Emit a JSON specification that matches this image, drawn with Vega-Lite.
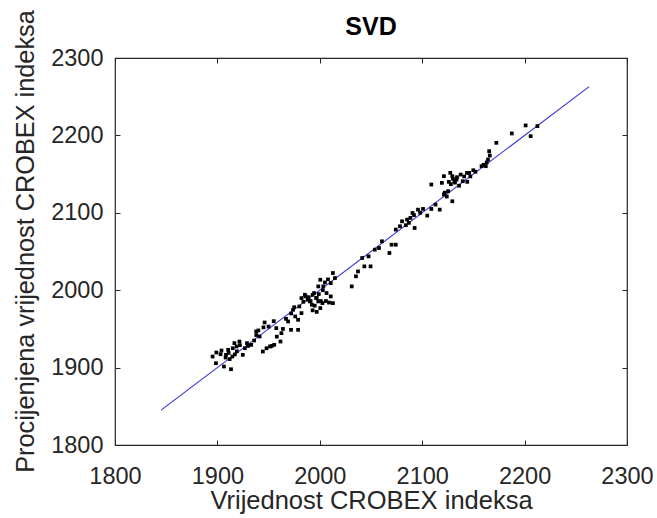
{
  "$schema": "https://vega.github.io/schema/vega-lite/v6.json",
  "autosize": "none",
  "width": 512,
  "height": 387,
  "padding": {"left": 115, "top": 58, "right": 30, "bottom": 73},
  "background": "white",
  "config": {
    "font": "Liberation Sans",
    "view": {"stroke": "#262626", "strokeWidth": 1.2},
    "axis": {"grid": false, "domain": false, "tickColor": "#262626", "tickSize": -5, "labelColor": "#262626", "titleColor": "#262626", "labelFont": "Liberation Sans", "titleFont": "Liberation Sans", "labelFontSize": 23.5, "titleFontSize": 26, "titleFontWeight": "normal", "format": "d", "labelFlush": false}
  },
  "title": {"text": "SVD", "fontSize": 25, "fontWeight": "bold", "font": "Liberation Sans", "color": "#000000", "offset": -30},
  "datasets": {
    "pts": [
      {"x":1895.3,"y":1914.3},{"x":1899.0,"y":1919.5},{"x":1898.6,"y":1905.7},{"x":1906.4,"y":1901.4},{"x":1913.3,"y":1897.9},
      {"x":1903.1,"y":1917.3},{"x":1908.4,"y":1916.5},{"x":1910.5,"y":1923.0},{"x":1914.6,"y":1914.3},{"x":1916.6,"y":1931.6},
      {"x":1918.7,"y":1927.3},{"x":1921.5,"y":1933.7},{"x":1924.8,"y":1916.5},{"x":1926.9,"y":1925.1},{"x":1928.9,"y":1931.6},
      {"x":1933.0,"y":1929.4},{"x":1935.9,"y":1935.0},{"x":1937.9,"y":1946.7},{"x":1941.2,"y":1940.2},{"x":1944.4,"y":1920.8},
      {"x":1946.1,"y":1958.3},{"x":1951.4,"y":1927.3},{"x":1955.5,"y":1929.4},{"x":1961.6,"y":1933.7},{"x":1962.5,"y":1944.5},
      {"x":1957.5,"y":1951.0},{"x":1969.0,"y":1959.6},{"x":1971.9,"y":1948.8},{"x":1973.9,"y":1974.7},{"x":1976.0,"y":1966.1},
      {"x":1978.8,"y":1961.8},{"x":1978.8,"y":1948.8},{"x":1982.1,"y":1970.4},{"x":1980.0,"y":1979.0},{"x":1982.1,"y":1989.8},
      {"x":1985.4,"y":1994.1},{"x":1988.2,"y":1987.7},{"x":1990.3,"y":1985.5},{"x":1992.3,"y":1981.2},{"x":1994.4,"y":1996.3},
      {"x":1996.4,"y":1989.8},{"x":1998.5,"y":1985.5},{"x":2000.5,"y":1976.9},{"x":2002.6,"y":1983.3},{"x":1998.5,"y":2004.9},
      {"x":2000.5,"y":2013.5},{"x":2003.4,"y":2004.9},{"x":2006.6,"y":1996.3},{"x":2010.7,"y":1992.0},{"x":2012.8,"y":1983.3},
      {"x":2010.7,"y":2009.2},{"x":2012.8,"y":2022.2},{"x":2014.8,"y":2015.7},{"x":2031.2,"y":2004.9},{"x":2035.3,"y":2017.9},
      {"x":2037.3,"y":2024.3},{"x":2041.4,"y":2041.6},{"x":2043.5,"y":2030.8},{"x":2049.6,"y":2030.8},{"x":2047.6,"y":2043.7},
      {"x":2053.7,"y":2052.4},{"x":2057.8,"y":2054.5},{"x":2060.7,"y":2063.2},{"x":2068.0,"y":2048.1},{"x":2070.1,"y":2058.8},
      {"x":2074.2,"y":2058.8},{"x":2074.2,"y":2078.3},{"x":2078.3,"y":2082.6},{"x":2080.3,"y":2089.0},{"x":2085.2,"y":2091.2},
      {"x":2088.5,"y":2093.4},{"x":2092.6,"y":2080.4},{"x":2090.5,"y":2099.8},{"x":2095.9,"y":2104.1},{"x":2100.8,"y":2105.0},
      {"x":2104.9,"y":2096.4},{"x":2108.9,"y":2105.0},{"x":2113.0,"y":2110.6},{"x":2117.1,"y":2104.1},{"x":2108.9,"y":2136.5},
      {"x":2119.2,"y":2138.7},{"x":2121.2,"y":2147.3},{"x":2121.2,"y":2123.6},{"x":2125.3,"y":2127.9},{"x":2127.4,"y":2151.6},
      {"x":2129.4,"y":2147.3},{"x":2129.4,"y":2114.9},{"x":2131.5,"y":2140.8},{"x":2133.5,"y":2143.0},{"x":2137.6,"y":2149.4},
      {"x":2139.6,"y":2140.8},{"x":2143.7,"y":2151.6},{"x":2145.8,"y":2151.6},{"x":2149.9,"y":2155.0},{"x":2158.0,"y":2160.2},
      {"x":2162.1,"y":2160.2},{"x":2164.2,"y":2168.8},{"x":2165.4,"y":2179.6},{"x":2172.4,"y":2190.4},{"x":2187.5,"y":2202.5},
      {"x":2201.0,"y":2212.9},{"x":2205.9,"y":2199.0},{"x":2212.5,"y":2212.0},
      {"x":1904,"y":1922},{"x":1911,"y":1919},{"x":1915,"y":1925},{"x":1919,"y":1921},{"x":1922,"y":1929},
      {"x":1908,"y":1913},{"x":1912,"y":1911},{"x":1917,"y":1917},{"x":1930,"y":1928},{"x":1938,"y":1942},
      {"x":1940,"y":1948},{"x":1945,"y":1952},{"x":1950,"y":1953},{"x":1955,"y":1960},{"x":1948,"y":1925},
      {"x":1953,"y":1928},{"x":1958,"y":1940},{"x":1964,"y":1950},{"x":1967,"y":1963},{"x":1972,"y":1970},
      {"x":1975,"y":1978},{"x":1984,"y":1985},{"x":1986,"y":1992},{"x":1989,"y":1991},{"x":1991,"y":1986},
      {"x":1993,"y":1994},{"x":1995,"y":1980},{"x":1997,"y":1990},{"x":1999,"y":1995},{"x":2001,"y":1986},
      {"x":2003,"y":2000},{"x":2005,"y":2010},{"x":2008,"y":2014},{"x":2006,"y":1986},{"x":2009,"y":1984},
      {"x":1993,"y":1974},{"x":1997,"y":1972},{"x":2084,"y":2084},{"x":2087,"y":2087},{"x":2092,"y":2097},
      {"x":2098,"y":2100},{"x":2122,"y":2126},{"x":2124,"y":2121},{"x":2126,"y":2140},{"x":2128,"y":2137},
      {"x":2130,"y":2144},{"x":2132,"y":2139},{"x":2134,"y":2146},{"x":2136,"y":2135},{"x":2141,"y":2147},
      {"x":2144,"y":2140},{"x":2147,"y":2147},{"x":2152,"y":2153},{"x":2163,"y":2165},{"x":2166,"y":2174},
      {"x":2160,"y":2162}
    ],
    "fit": [{"x": 1845, "y": 1845}, {"x": 2263, "y": 2263}]
  },
  "layer": [
    {
      "data": {"name": "fit"},
      "mark": {"type": "line", "color": "#3333d6", "strokeWidth": 1.1},
      "encoding": {
        "x": {"field": "x", "type": "quantitative", "scale": {"domain": [1800, 2300], "nice": false, "zero": false},
              "axis": {"orient": "top", "labels": false, "title": null, "values": [1800, 1900, 2000, 2100, 2200, 2300]}},
        "y": {"field": "y", "type": "quantitative", "scale": {"domain": [1800, 2300], "nice": false, "zero": false},
              "axis": {"orient": "right", "labels": false, "title": null, "values": [1800, 1900, 2000, 2100, 2200, 2300]}}
      }
    },
    {
      "data": {"name": "pts"},
      "mark": {"type": "square", "color": "#000000", "size": 14, "opacity": 1, "filled": true},
      "encoding": {
        "x": {"field": "x", "type": "quantitative", "scale": {"domain": [1800, 2300], "nice": false, "zero": false},
              "axis": {"orient": "bottom", "title": "Vrijednost CROBEX indeksa", "titleFontSize": 25.5, "values": [1800, 1900, 2000, 2100, 2200, 2300], "labelPadding": 24, "titlePadding": 1}},
        "y": {"field": "y", "type": "quantitative", "scale": {"domain": [1800, 2300], "nice": false, "zero": false},
              "axis": {"orient": "left", "title": "Procijenjena vrijednost CROBEX indeksa", "titleFontSize": 25.3, "values": [1800, 1900, 2000, 2100, 2200, 2300], "labelPadding": 17, "titlePadding": 12, "titleY": 183}}
      }
    }
  ],
  "resolve": {"axis": {"x": "independent", "y": "independent"}}
}
